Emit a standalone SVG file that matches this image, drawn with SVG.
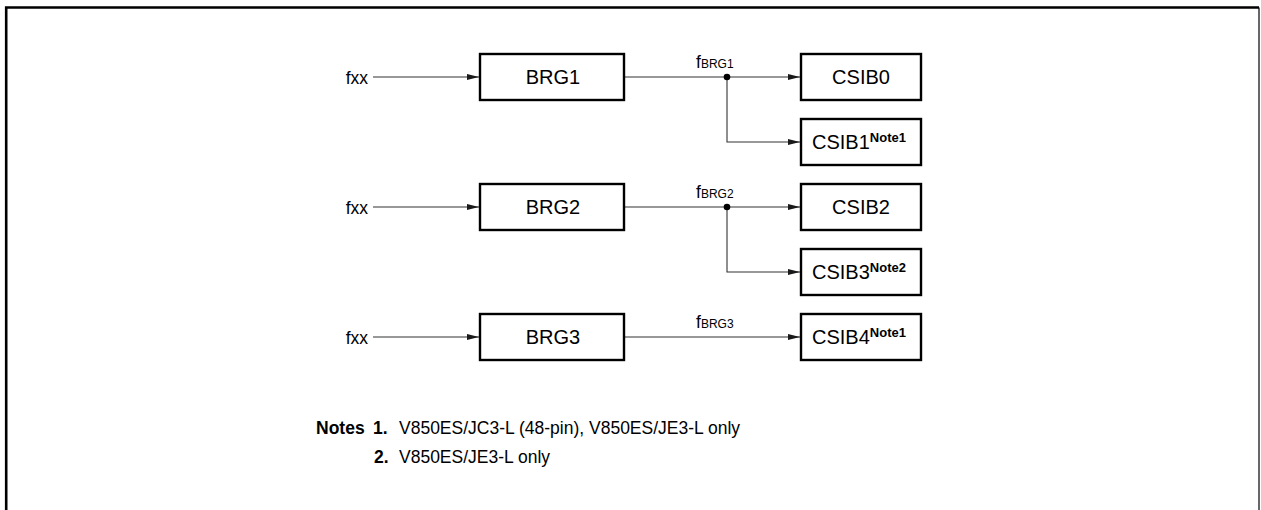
<svg xmlns="http://www.w3.org/2000/svg" width="1261" height="510" viewBox="0 0 1261 510">
<defs>
<marker id="arr" markerWidth="12" markerHeight="8" refX="12" refY="4" orient="auto" markerUnits="userSpaceOnUse">
<path d="M0,1 L12,4 L0,7 Z" fill="#1a1a1a"/>
</marker>
<style>
.box{fill:#fff;stroke:#000;stroke-width:2.4}
.t{font-family:"Liberation Sans",Arial,Helvetica,sans-serif;font-size:17.5px;fill:#000}
.lb{font-size:20px}
.c{text-anchor:middle}
.e{text-anchor:end}
.ln{fill:none;stroke:#333;stroke-width:1.1}
.sub{font-size:12px}
.sup{font-size:13px;font-weight:bold}
.b{font-weight:bold}
</style>
</defs>
<rect width="1261" height="510" fill="#fff"/>
<g id="frame" fill="none" stroke="#000">
<path d="M6.2,510 V7.5 H1259" stroke-width="2.6"/>
<path d="M1259,7.5 V510" stroke-width="1.2"/>
</g>
<g id="connectors">
<line class="ln" x1="373" y1="77" x2="479" y2="77" marker-end="url(#arr)"/>
<line class="ln" x1="625" y1="77" x2="800" y2="77" marker-end="url(#arr)"/>
<polyline class="ln" points="727,77 727,142 800,142" marker-end="url(#arr)"/>
<circle cx="727" cy="77" r="3.3" fill="#000"/>
<line class="ln" x1="373" y1="207" x2="479" y2="207" marker-end="url(#arr)"/>
<line class="ln" x1="625" y1="207" x2="800" y2="207" marker-end="url(#arr)"/>
<polyline class="ln" points="727,207 727,272 800,272" marker-end="url(#arr)"/>
<circle cx="727" cy="207" r="3.3" fill="#000"/>
<line class="ln" x1="373" y1="337" x2="479" y2="337" marker-end="url(#arr)"/>
<line class="ln" x1="625" y1="337" x2="800" y2="337" marker-end="url(#arr)"/>
</g>
<g id="labels">
<text class="t e" x="368" y="84" font-size="20">f<tspan font-size="17.5">xx</tspan></text>
<text class="t e" x="368" y="214" font-size="20">f<tspan font-size="17.5">xx</tspan></text>
<text class="t e" x="368" y="344" font-size="20">f<tspan font-size="17.5">xx</tspan></text>
<text class="t" x="696" y="68" font-size="19">f<tspan class="sub">BRG1</tspan></text>
<text class="t" x="696" y="198" font-size="19">f<tspan class="sub">BRG2</tspan></text>
<text class="t" x="696" y="328" font-size="19">f<tspan class="sub">BRG3</tspan></text>
</g>
<g id="brg1"><rect class="box" x="480" y="54" width="144" height="46"/><text class="t lb c" x="553" y="84">BRG1</text></g>
<g id="brg2"><rect class="box" x="480" y="184" width="144" height="46"/><text class="t lb c" x="553" y="214">BRG2</text></g>
<g id="brg3"><rect class="box" x="480" y="314" width="144" height="46"/><text class="t lb c" x="553" y="344">BRG3</text></g>
<g id="csib0"><rect class="box" x="801" y="54" width="120" height="46"/><text class="t lb c" x="861" y="84">CSIB0</text></g>
<g id="csib1"><rect class="box" x="801" y="119" width="120" height="46"/><text class="t lb" x="812" y="149">CSIB1<tspan class="sup" dy="-7">Note1</tspan></text></g>
<g id="csib2"><rect class="box" x="801" y="184" width="120" height="46"/><text class="t lb c" x="861" y="214">CSIB2</text></g>
<g id="csib3"><rect class="box" x="801" y="249" width="120" height="46"/><text class="t lb" x="812" y="279">CSIB3<tspan class="sup" dy="-7">Note2</tspan></text></g>
<g id="csib4"><rect class="box" x="801" y="314" width="120" height="46"/><text class="t lb" x="812" y="344">CSIB4<tspan class="sup" dy="-7">Note1</tspan></text></g>
<g id="notes">
<text class="t b" x="316" y="434">Notes</text>
<text class="t b" x="373" y="434">1.</text>
<text class="t" x="399" y="434">V850ES/JC3-L (48-pin), V850ES/JE3-L only</text>
<text class="t b" x="374" y="463">2.</text>
<text class="t" x="399" y="463">V850ES/JE3-L only</text>
</g>
</svg>
